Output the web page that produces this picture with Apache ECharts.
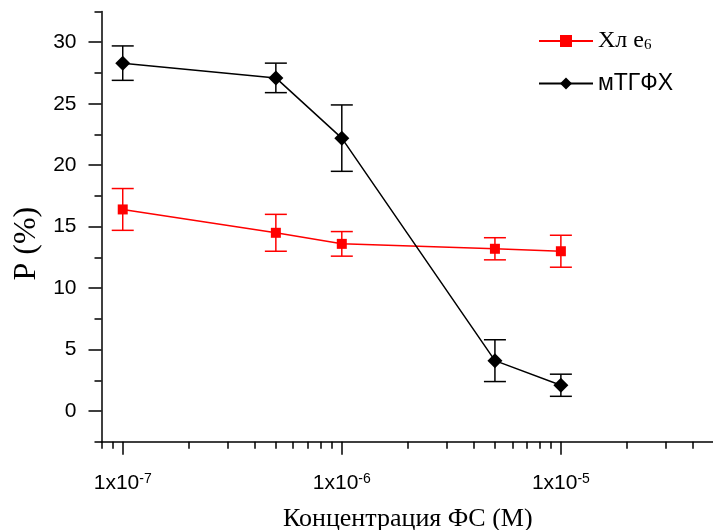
<!DOCTYPE html>
<html>
<head>
<meta charset="utf-8">
<title>P vs concentration</title>
<script src="https://cdn.jsdelivr.net/npm/echarts@6/dist/echarts.min.js"></script>
<style>
	html, body { margin: 0; padding: 0; background: #fff; }
	#main { width: 713px; height: 530px; }
</style>
</head>
<body>
<div id="main"></div>
<script>
// concentrations (M)
var conc = [1e-7, 5e-7, 1e-6, 5e-6, 1e-5];
// Хл e6
var chlMean = [16.4, 14.5, 13.6, 13.2, 13.0];
var chlErr = [1.7, 1.5, 1.0, 0.9, 1.3];
// мТГФХ
var mtgMean = [28.3, 27.1, 22.2, 4.1, 2.1];
var mtgErr = [1.4, 1.2, 2.7, 1.7, 0.9];

var xMajor = [1e-7, 1e-6, 1e-5];
var xMinor = [8e-8, 9e-8, 2e-7, 3e-7, 4e-7, 5e-7, 6e-7, 7e-7, 8e-7, 9e-7,
	2e-6, 3e-6, 4e-6, 5e-6, 6e-6, 7e-6, 8e-6, 9e-6, 2e-5, 3e-5, 4e-5, 5e-5];
var yMajor = [0, 5, 10, 15, 20, 25, 30];
var yMinor = [-2.5, 2.5, 7.5, 12.5, 17.5, 22.5, 27.5, 32.5];

function pairs(xs, ys) {
	return xs.map(function (x, i) { return [x, ys[i]]; });
}
function errRows(xs, ys, es) {
	return xs.map(function (x, i) { return [x, ys[i] - es[i], ys[i] + es[i]]; });
}

// error bars: vertical line + caps
function errRenderer(color) {
	return function (params, api) {
		var lo = api.coord([api.value(0), api.value(1)]);
		var hi = api.coord([api.value(0), api.value(2)]);
		var w = 11;
		var st = { stroke: color, lineWidth: 1.5 };
		return {
			type: 'group',
			children: [
				{ type: 'line', shape: { x1: lo[0], y1: lo[1], x2: hi[0], y2: hi[1] }, style: st },
				{ type: 'line', shape: { x1: lo[0] - w, y1: lo[1], x2: lo[0] + w, y2: lo[1] }, style: st },
				{ type: 'line', shape: { x1: hi[0] - w, y1: hi[1], x2: hi[0] + w, y2: hi[1] }, style: st }
			]
		};
	};
}

var sans = 'Liberation Sans, Arial, sans-serif';
var serif = 'Liberation Serif, Times New Roman, serif';

var myChart = echarts.init(document.getElementById('main'));
var option = {
	animation: false,
	backgroundColor: '#fff',
	grid: { left: 101.5, top: 11.5, right: -1, bottom: 88.2, outerBoundsMode: 'none', containLabel: false },
	legend: {
		orient: 'vertical',
		left: 538,
		top: 29,
		padding: 0,
		itemWidth: 54,
		itemHeight: 15,
		itemGap: 19,
		data: ['chl', 'mtg'],
		formatter: function (name) {
			return name === 'chl' ? '{s|Хл e}{sub|6}' : '{a|мТГФХ}';
		},
		textStyle: {
			color: '#000',
			rich: {
				s: { fontFamily: serif, fontSize: 24, lineHeight: 24, verticalAlign: 'middle', color: '#000' },
				sub: { fontFamily: serif, fontSize: 15, lineHeight: 14, verticalAlign: 'bottom', color: '#000' },
				a: { fontFamily: sans, fontSize: 23, lineHeight: 24, verticalAlign: 'middle', color: '#000' }
			}
		}
	},
	xAxis: [
		{
			type: 'log',
			min: 8e-8,
			max: 5e-5,
			name: 'Концентрация ФС (М)',
			nameLocation: 'middle',
			nameGap: 64,
			nameTextStyle: { fontFamily: serif, fontSize: 26, color: '#000' },
			axisLine: { onZero: false, lineStyle: { color: '#000', width: 1.5 } },
			axisTick: { customValues: xMajor, length: 13, lineStyle: { color: '#000', width: 1.5 } },
			axisLabel: {
				customValues: xMajor,
				margin: 30,
				formatter: function (v) {
					return '{a|1x10}{sup|' + Math.round(Math.log10(v)) + '}';
				},
				rich: {
					a: { fontFamily: sans, fontSize: 21, lineHeight: 22, verticalAlign: 'middle', color: '#000' },
					sup: { fontFamily: sans, fontSize: 14, lineHeight: 13, verticalAlign: 'top', color: '#000' }
				}
			},
			splitLine: { show: false }
		},
		{
			// minor ticks only
			type: 'log',
			min: 8e-8,
			max: 5e-5,
			position: 'bottom',
			axisLine: { show: false, onZero: false },
			axisTick: { customValues: xMinor, length: 7, lineStyle: { color: '#000', width: 1.5 } },
			axisLabel: { show: false },
			splitLine: { show: false }
		}
	],
	yAxis: [
		{
			type: 'value',
			min: -2.5,
			max: 32.5,
			name: 'P (%)',
			nameLocation: 'middle',
			nameGap: 57,
			nameTextStyle: { fontFamily: serif, fontSize: 32, color: '#000', padding: [0, 34, 0, 0] },
			axisLine: { show: true, onZero: false, lineStyle: { color: '#000', width: 1.5 } },
			axisTick: { show: true, customValues: yMajor, length: 13, lineStyle: { color: '#000', width: 1.5 } },
			axisLabel: { customValues: yMajor, margin: 25, fontFamily: sans, fontSize: 21, color: '#000' },
			splitLine: { show: false }
		},
		{
			type: 'value',
			min: -2.5,
			max: 32.5,
			position: 'left',
			axisLine: { show: false, onZero: false },
			axisTick: { show: true, customValues: yMinor, length: 7, lineStyle: { color: '#000', width: 1.5 } },
			axisLabel: { show: false },
			splitLine: { show: false }
		}
	],
	series: [
		{
			type: 'custom',
			renderItem: errRenderer('#ff0000'),
			data: errRows(conc, chlMean, chlErr),
			encode: { x: 0, y: [1, 2] },
			z: 2
		},
		{
			type: 'custom',
			renderItem: errRenderer('#000'),
			data: errRows(conc, mtgMean, mtgErr),
			encode: { x: 0, y: [1, 2] },
			z: 2
		},
		{
			name: 'chl',
			type: 'line',
			data: pairs(conc, chlMean),
			symbol: 'rect',
			symbolSize: 10,
			color: '#ff0000',
			lineStyle: { color: '#ff0000', width: 1.5 },
			itemStyle: { color: '#ff0000' },
			z: 3
		},
		{
			name: 'mtg',
			type: 'line',
			data: pairs(conc, mtgMean),
			symbol: 'diamond',
			symbolSize: 15,
			color: '#000',
			lineStyle: { color: '#000', width: 1.5 },
			itemStyle: { color: '#000' },
			z: 4
		}
	]
};
myChart.setOption(option);
</script>
</body>
</html>
